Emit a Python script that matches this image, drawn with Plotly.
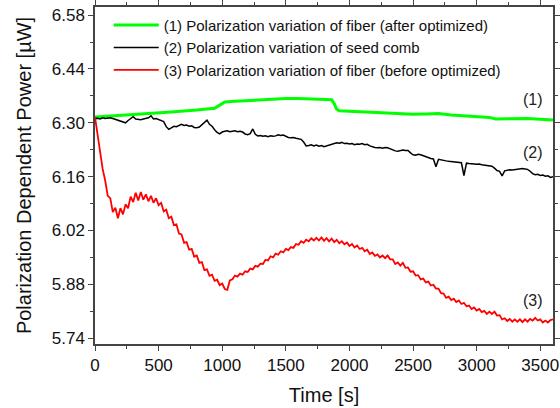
import plotly.graph_objects as go

# sampling times (s) for series 2 and 3
t_dense = list(range(0, 3601, 20))

red = [6.315, 6.272, 6.231, 6.180, 6.150, 6.110, 6.104, 6.068, 6.079, 6.052,
       6.078, 6.062, 6.088, 6.078, 6.108, 6.094, 6.118, 6.098, 6.120, 6.100,
       6.114, 6.096, 6.110, 6.092, 6.104, 6.086, 6.092, 6.070, 6.074, 6.052,
       6.056, 6.034, 6.036, 6.012, 6.010, 5.988, 5.990, 5.970, 5.972, 5.952,
       5.955, 5.936, 5.938, 5.917, 5.919, 5.902, 5.905, 5.889, 5.892, 5.878,
       5.882, 5.868, 5.866, 5.890, 5.893, 5.903, 5.900, 5.908, 5.905, 5.914,
       5.912, 5.921, 5.919, 5.928, 5.926, 5.934, 5.933, 5.944, 5.942, 5.953,
       5.950, 5.960, 5.957, 5.966, 5.963, 5.972, 5.969, 5.977, 5.975, 5.985,
       5.983, 5.992, 5.988, 5.996, 5.992, 6.000, 5.994, 6.001, 5.994, 6.002,
       5.993, 6.000, 5.992, 5.999, 5.990, 5.996, 5.987, 5.992, 5.984, 5.989,
       5.980, 5.985, 5.976, 5.981, 5.972, 5.975, 5.966, 5.970, 5.959, 5.963,
       5.954, 5.958, 5.950, 5.955, 5.948, 5.955, 5.945, 5.945, 5.933, 5.937,
       5.929, 5.936, 5.923, 5.924, 5.913, 5.914, 5.903, 5.904, 5.893, 5.895,
       5.885, 5.887, 5.877, 5.879, 5.869, 5.869, 5.857, 5.856, 5.845, 5.848,
       5.839, 5.843, 5.834, 5.838, 5.829, 5.832, 5.823, 5.825, 5.816, 5.820,
       5.812, 5.816, 5.808, 5.811, 5.803, 5.809, 5.803, 5.809, 5.799, 5.800,
       5.789, 5.792, 5.785, 5.790, 5.783, 5.789, 5.783, 5.789, 5.782, 5.789,
       5.783, 5.790, 5.786, 5.793, 5.786, 5.789, 5.781, 5.786, 5.781, 5.787,
       5.789]

black = [6.311, 6.312, 6.310, 6.313, 6.311, 6.312, 6.313, 6.311, 6.309, 6.307,
         6.305, 6.302, 6.300, 6.306, 6.311, 6.316, 6.310, 6.309, 6.308, 6.310,
         6.311, 6.313, 6.318, 6.310, 6.311, 6.309, 6.306, 6.303, 6.290, 6.283,
         6.287, 6.291, 6.290, 6.294, 6.296, 6.293, 6.294, 6.291, 6.292, 6.288,
         6.287, 6.289, 6.295, 6.301, 6.307, 6.296, 6.291, 6.282, 6.275, 6.271,
         6.276, 6.278, 6.279, 6.277, 6.278, 6.279, 6.277, 6.278, 6.276, 6.271,
         6.269, 6.272, 6.284, 6.270, 6.266, 6.267, 6.265, 6.266, 6.264, 6.266,
         6.265, 6.266, 6.269, 6.267, 6.268, 6.264, 6.262, 6.261, 6.262, 6.260,
         6.258, 6.257, 6.250, 6.240, 6.241, 6.243, 6.240, 6.242, 6.239, 6.241,
         6.238, 6.240, 6.242, 6.244, 6.246, 6.248, 6.247, 6.249, 6.246, 6.247,
         6.245, 6.246, 6.243, 6.245, 6.244, 6.246, 6.243, 6.244, 6.240, 6.237,
         6.236, 6.235, 6.236, 6.234, 6.236, 6.235, 6.232, 6.229, 6.227, 6.226,
         6.227, 6.229, 6.228, 6.228, 6.222, 6.217, 6.216, 6.218, 6.217, 6.214,
         6.211, 6.209, 6.207, 6.206, 6.186, 6.205, 6.203, 6.202, 6.201, 6.200,
         6.199, 6.198, 6.197, 6.196, 6.196, 6.163, 6.195, 6.194, 6.194, 6.193,
         6.192, 6.193, 6.191, 6.190, 6.190, 6.188, 6.187, 6.182, 6.176, 6.174,
         6.162, 6.175, 6.177, 6.178, 6.177, 6.178, 6.179, 6.180, 6.181, 6.180,
         6.179, 6.174, 6.168, 6.165, 6.166, 6.163, 6.164, 6.161, 6.162, 6.158,
         6.160]

green_t = [0, 200, 400, 600, 800, 900, 940, 980, 1020, 1100, 1200, 1300, 1400,
           1500, 1600, 1700, 1800, 1860, 1880, 1900, 1920, 2000, 2100, 2200,
           2300, 2400, 2500, 2600, 2700, 2800, 2900, 3000, 3100, 3150, 3200,
           3300, 3400, 3500, 3600]
green = [6.315, 6.319, 6.323, 6.328, 6.333, 6.336, 6.338, 6.346, 6.354, 6.356,
         6.358, 6.360, 6.362, 6.363, 6.363, 6.362, 6.362, 6.360, 6.350, 6.335,
         6.331, 6.330, 6.328, 6.327, 6.325, 6.324, 6.322, 6.323, 6.324, 6.320,
         6.318, 6.317, 6.314, 6.310, 6.310, 6.311, 6.311, 6.309, 6.307]

names = ["(1) Polarization variation of fiber (after optimized)",
         "(2) Polarization variation of seed comb",
         "(3) Polarization variation of fiber (before optimized)"]
labels = ["(1)", "(2)", "(3)"]
label_x = [3440, 3440, 3440]
label_y = [6.361, 6.222, 5.838]
y_ticks = [5.74, 5.88, 6.02, 6.16, 6.30, 6.44, 6.58]
x_ticks = [0, 500, 1000, 1500, 2000, 2500, 3000, 3500]

assert len(red) == len(t_dense) and len(black) == len(t_dense)

FONT = "Liberation Sans, Arial, sans-serif"

fig = go.Figure()
fig.add_trace(go.Scatter(x=green_t, y=green, mode="lines", name=names[0],
                         line=dict(color="#00ff00", width=3)))
fig.add_trace(go.Scatter(x=t_dense, y=black, mode="lines", name=names[1],
                         line=dict(color="#000000", width=1.5)))
fig.add_trace(go.Scatter(x=t_dense, y=red, mode="lines", name=names[2],
                         line=dict(color="#ff0000", width=1.8)))

for lx, ly, lt in zip(label_x, label_y, labels):
    fig.add_annotation(x=lx, y=ly, text=lt, showarrow=False,
                       font=dict(size=16, color="#222", family=FONT))

axis_common = dict(showline=True, linecolor="#444", linewidth=1.5,
                   mirror="allticks", ticks="outside", ticklen=5,
                   tickwidth=1.2, tickcolor="#444", showgrid=False,
                   zeroline=False, automargin=False,
                   tickfont=dict(size=17, color="#111", family=FONT))

fig.update_xaxes(range=[0, 3600], tickvals=x_ticks,
                 minor=dict(ticks="outside", ticklen=3, dtick=250, tick0=0,
                            tickcolor="#444"),
                 title=dict(text="Time [s]", standoff=14,
                            font=dict(size=20, color="#111", family=FONT)),
                 **axis_common)
fig.update_yaxes(range=[5.725, 6.601], tickvals=y_ticks, tickformat=".2f",
                 minor=dict(ticks="outside", ticklen=3, dtick=0.07, tick0=5.74,
                            tickcolor="#444"),
                 title=dict(text="Polarization Dependent Power [µW]", standoff=15,
                            font=dict(size=20, color="#111", family=FONT)),
                 **axis_common)

fig.update_layout(
    width=560, height=408,
    margin=dict(l=95, r=7, t=7, b=64, autoexpand=False),
    paper_bgcolor="white", plot_bgcolor="white",
    showlegend=True,
    legend=dict(x=0.03, y=0.995, xanchor="left", yanchor="top",
                bgcolor="rgba(0,0,0,0)", borderwidth=0,
                font=dict(size=15, color="#111", family=FONT),
                itemwidth=45, tracegroupgap=0),
)

fig.write_html("out.html", config={"displayModeBar": False},
               post_script="document.body.style.margin='0';"
                           "document.body.style.overflow='hidden';")
